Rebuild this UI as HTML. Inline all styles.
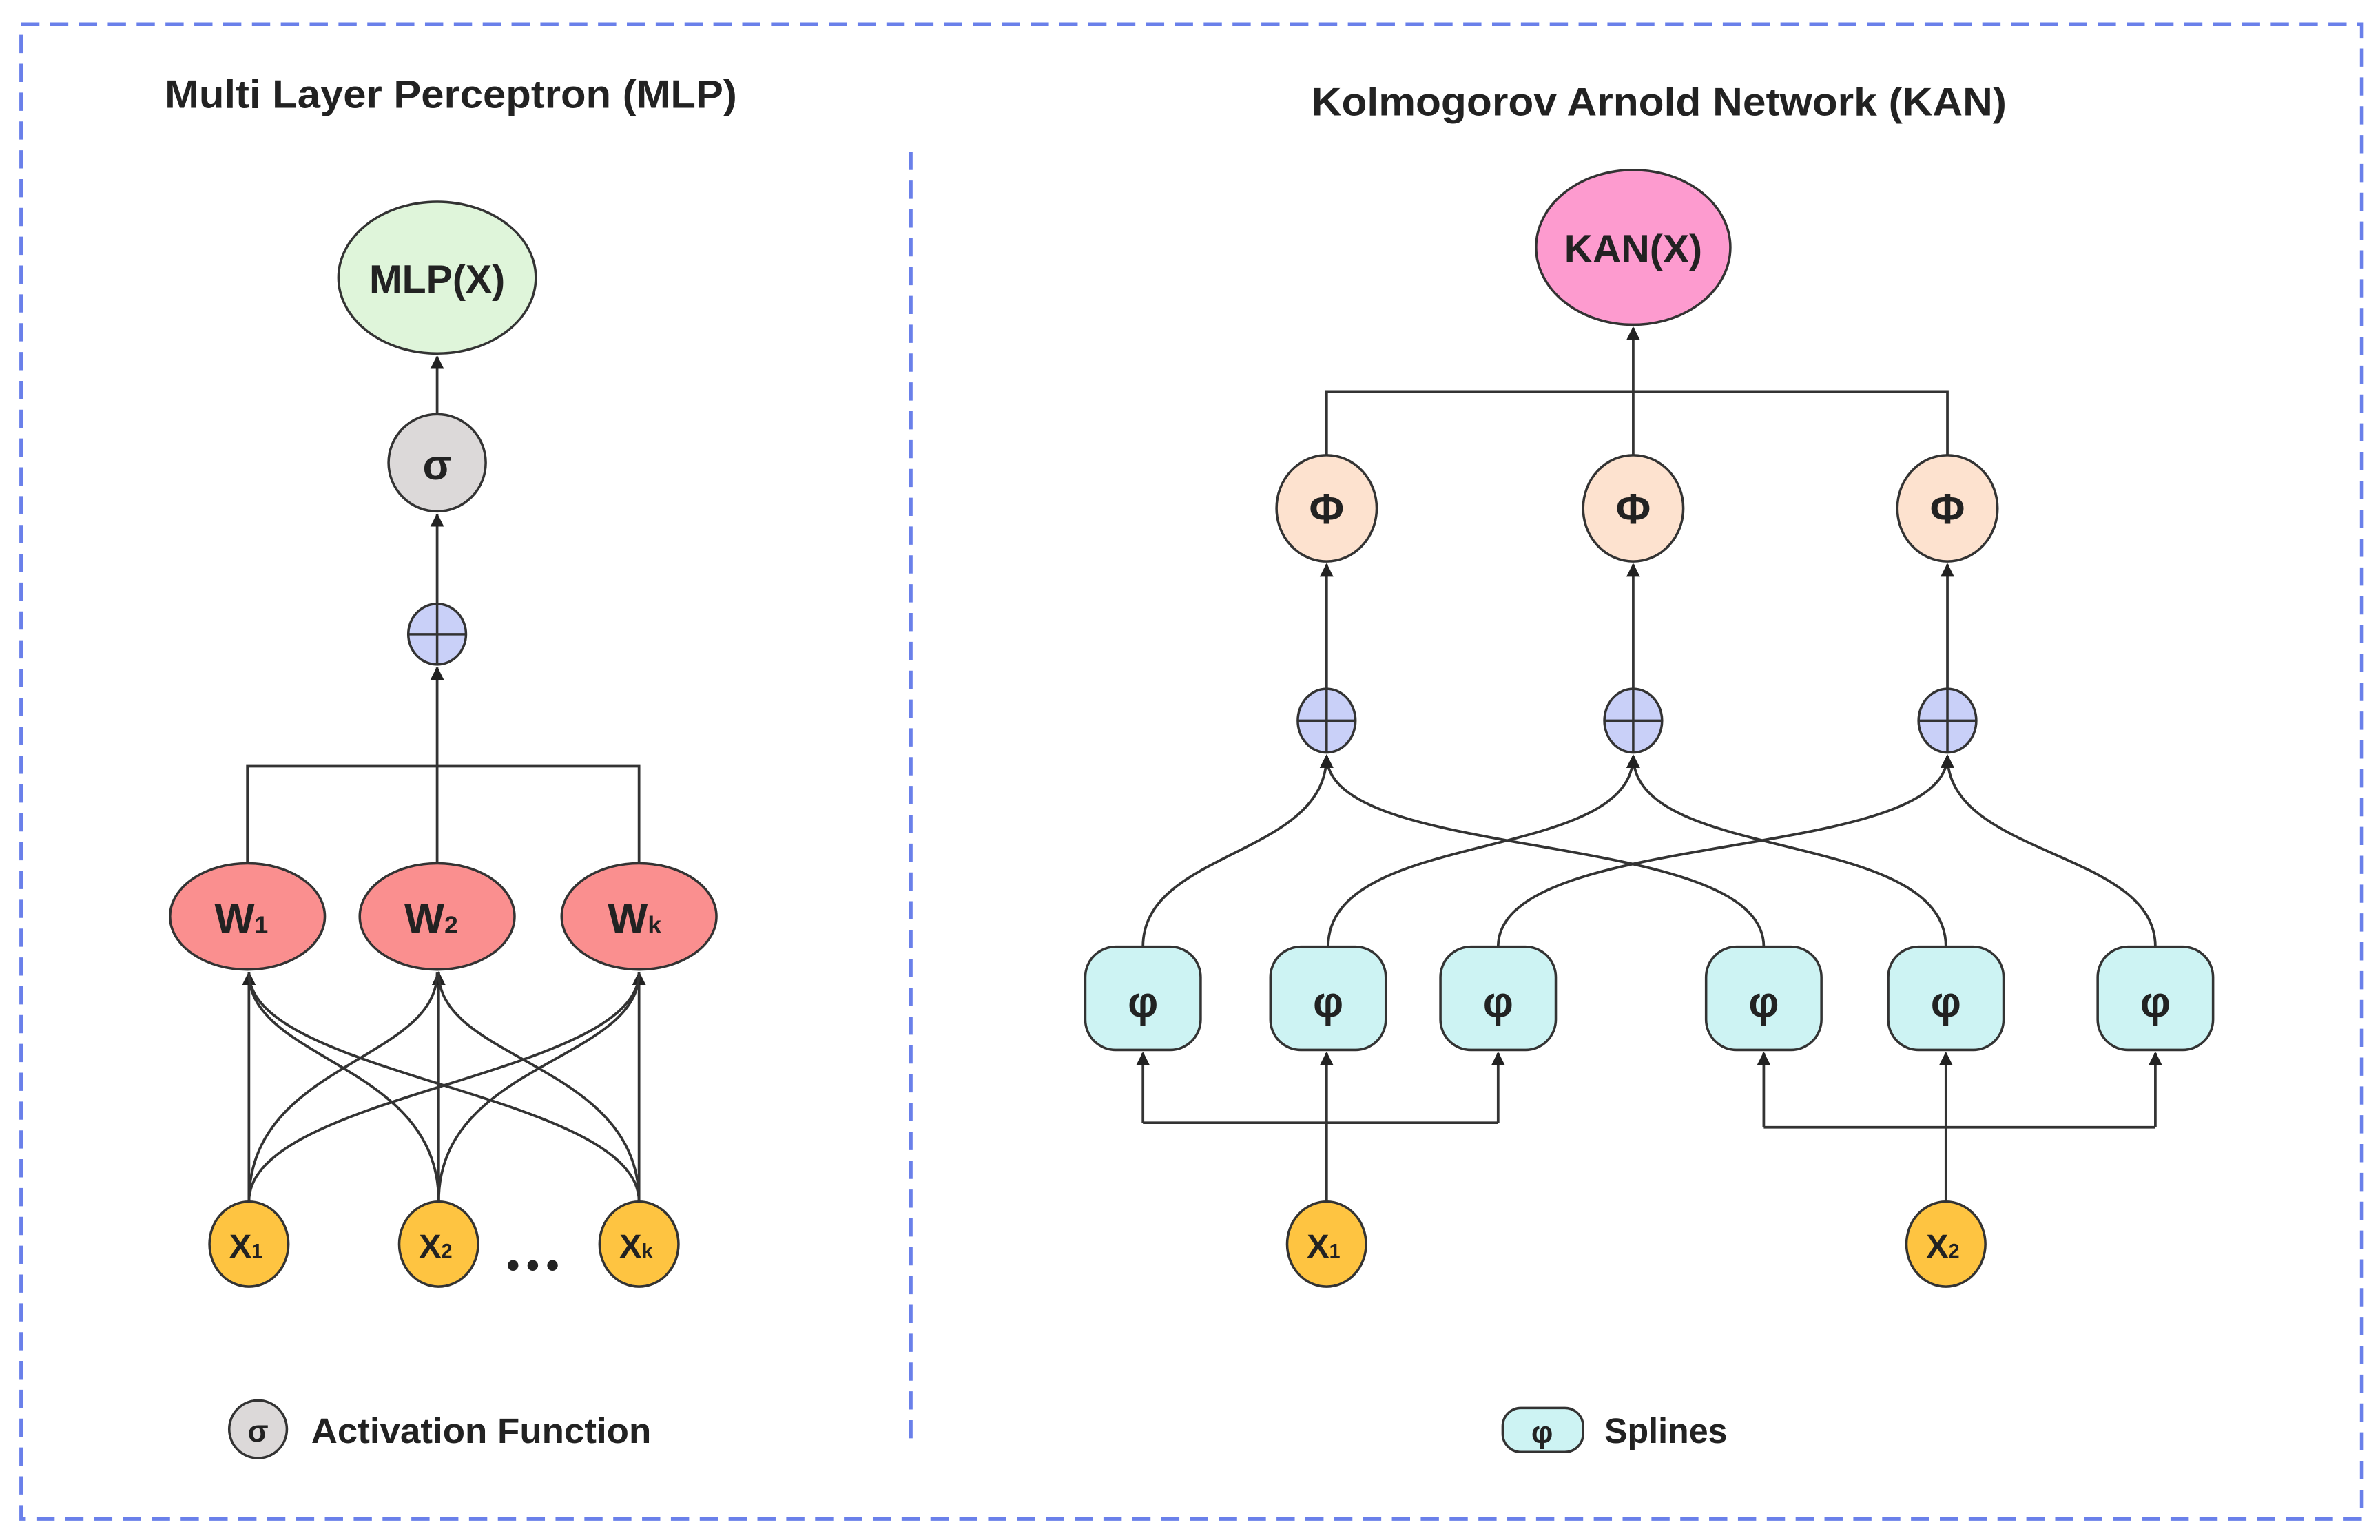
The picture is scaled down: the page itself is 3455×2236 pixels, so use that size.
<!DOCTYPE html>
<html><head><meta charset="utf-8"><style>
html,body{margin:0;padding:0;background:#fff;}
svg{display:block;}
text{font-family:"Liberation Sans",sans-serif;font-weight:bold;fill:#222;}
</style></head><body>
<svg width="3455" height="2236" viewBox="0 0 1568 1015" preserveAspectRatio="none" xmlns="http://www.w3.org/2000/svg">
<defs>
<marker id="a" viewBox="0 0 10 10" refX="9" refY="5" markerWidth="9" markerHeight="11" orient="auto" markerUnits="userSpaceOnUse">
<path d="M0,0 L10,5 L0,10 z" fill="#222"/></marker>
</defs>
<rect x="14" y="16" width="1542" height="985" fill="none" stroke="#6a80ea" stroke-width="2.5" stroke-dasharray="12,7"/>
<line x1="600" y1="100" x2="600" y2="952" stroke="#6a80ea" stroke-width="2.5" stroke-dasharray="12,7"/>
<text x="297" y="71" font-size="26" text-anchor="middle" textLength="377" lengthAdjust="spacingAndGlyphs">Multi Layer Perceptron (MLP)</text>
<text x="1093" y="76" font-size="26" text-anchor="middle" textLength="458" lengthAdjust="spacingAndGlyphs">Kolmogorov Arnold Network (KAN)</text>

<g stroke="#333" stroke-width="1.7" fill="none">
<line x1="288" y1="273" x2="288" y2="235" marker-end="url(#a)"/>
<line x1="288" y1="398" x2="288" y2="339" marker-end="url(#a)"/>
<polyline points="163,569 163,505 421,505 421,569"/>
<line x1="288" y1="569" x2="288" y2="440" marker-end="url(#a)"/>
<line x1="164" y1="792" x2="164" y2="641" marker-end="url(#a)"/>
<line x1="289" y1="792" x2="289" y2="641" marker-end="url(#a)"/>
<line x1="421" y1="792" x2="421" y2="641" marker-end="url(#a)"/>
<path d="M164 792 C164 700 288 700 288 641"/>
<path d="M164 792 C164 720 421 710 421 641"/>
<path d="M289 792 C289 700 164 700 164 641"/>
<path d="M289 792 C289 700 421 700 421 641"/>
<path d="M421 792 C421 700 289 700 289 641"/>
<path d="M421 792 C421 720 164 710 164 641"/>
<polyline points="874,300 874,258 1283,258 1283,300"/>
<line x1="1076" y1="300" x2="1076" y2="216" marker-end="url(#a)"/>
<line x1="874" y1="454" x2="874" y2="372" marker-end="url(#a)"/>
<line x1="1076" y1="454" x2="1076" y2="372" marker-end="url(#a)"/>
<line x1="1283" y1="454" x2="1283" y2="372" marker-end="url(#a)"/>
<path d="M753 624 C753 560 874 565 874 498" marker-end="url(#a)"/>
<path d="M1162 624 C1162 545 874 570 874 498" marker-end="url(#a)"/>
<path d="M875 624 C875 545 1076 570 1076 498" marker-end="url(#a)"/>
<path d="M1282 624 C1282 545 1076 570 1076 498" marker-end="url(#a)"/>
<path d="M987 624 C987 545 1283 570 1283 498" marker-end="url(#a)"/>
<path d="M1420 624 C1420 560 1283 565 1283 498" marker-end="url(#a)"/>
<polyline points="753,740 987,740"/>
<line x1="753" y1="740" x2="753" y2="694" marker-end="url(#a)"/>
<line x1="987" y1="740" x2="987" y2="694" marker-end="url(#a)"/>
<line x1="874" y1="792" x2="874" y2="694" marker-end="url(#a)"/>
<polyline points="1162,743 1420,743"/>
<line x1="1162" y1="743" x2="1162" y2="694" marker-end="url(#a)"/>
<line x1="1420" y1="743" x2="1420" y2="694" marker-end="url(#a)"/>
<line x1="1282" y1="792" x2="1282" y2="694" marker-end="url(#a)"/>
</g>

<g stroke="#333" stroke-width="1.6">
<ellipse cx="288" cy="183" rx="65" ry="50" fill="#dff5da"/>
<circle cx="288" cy="305" r="32" fill="#dcd9d9"/>
<ellipse cx="288" cy="418" rx="19" ry="20" fill="#c9d0f8"/>
<path d="M269 418 H307 M288 398 V438" fill="none"/>
<ellipse cx="163" cy="604" rx="51" ry="35" fill="#fa8f8f"/>
<ellipse cx="288" cy="604" rx="51" ry="35" fill="#fa8f8f"/>
<ellipse cx="421" cy="604" rx="51" ry="35" fill="#fa8f8f"/>
<ellipse cx="164" cy="820" rx="26" ry="28" fill="#fec441"/>
<ellipse cx="289" cy="820" rx="26" ry="28" fill="#fec441"/>
<ellipse cx="421" cy="820" rx="26" ry="28" fill="#fec441"/>
<circle cx="170" cy="942" r="19" fill="#dcd9d9"/>
<rect x="990" y="928" width="53" height="29" rx="12" fill="#cdf3f3"/>
<ellipse cx="1076" cy="163" rx="64" ry="51" fill="#fd9bcf"/>
<ellipse cx="874" cy="335" rx="33" ry="35" fill="#fde2cf"/>
<ellipse cx="1076" cy="335" rx="33" ry="35" fill="#fde2cf"/>
<ellipse cx="1283" cy="335" rx="33" ry="35" fill="#fde2cf"/>
<ellipse cx="874" cy="475" rx="19" ry="21" fill="#c9d0f8"/>
<ellipse cx="1076" cy="475" rx="19" ry="21" fill="#c9d0f8"/>
<ellipse cx="1283" cy="475" rx="19" ry="21" fill="#c9d0f8"/>
<path d="M855 475 H893 M874 454 V496 M1057 475 H1095 M1076 454 V496 M1264 475 H1302 M1283 454 V496" fill="none"/>
<rect x="715" y="624" width="76" height="68" rx="20" fill="#cdf3f3"/>
<rect x="837" y="624" width="76" height="68" rx="20" fill="#cdf3f3"/>
<rect x="949" y="624" width="76" height="68" rx="20" fill="#cdf3f3"/>
<rect x="1124" y="624" width="76" height="68" rx="20" fill="#cdf3f3"/>
<rect x="1244" y="624" width="76" height="68" rx="20" fill="#cdf3f3"/>
<rect x="1382" y="624" width="76" height="68" rx="20" fill="#cdf3f3"/>
<ellipse cx="874" cy="820" rx="26" ry="28" fill="#fec441"/>
<ellipse cx="1282" cy="820" rx="26" ry="28" fill="#fec441"/>
</g>
<circle cx="338" cy="834" r="3.5" fill="#222"/><circle cx="351" cy="834" r="3.5" fill="#222"/><circle cx="364" cy="834" r="3.5" fill="#222"/>

<g text-anchor="middle">
<text x="288" y="193" font-size="26">MLP(X)</text>
<text x="288" y="316" font-size="28">σ</text>
<text x="159" y="615" font-size="28">W<tspan font-size="16">1</tspan></text>
<text x="284" y="615" font-size="28">W<tspan font-size="16">2</tspan></text>
<text x="418" y="615" font-size="28">W<tspan font-size="16">k</tspan></text>
<text x="162" y="829" font-size="22">X<tspan font-size="13">1</tspan></text>
<text x="287" y="829" font-size="22">X<tspan font-size="13">2</tspan></text>
<text x="419" y="829" font-size="22">X<tspan font-size="13">k</tspan></text>
<text x="872" y="829" font-size="22">X<tspan font-size="13">1</tspan></text>
<text x="1280" y="829" font-size="22">X<tspan font-size="13">2</tspan></text>
<text x="170" y="950" font-size="20">σ</text>
<text x="1016" y="951" font-size="20">φ</text>
<text x="1076" y="173" font-size="26">KAN(X)</text>
<text x="874" y="345" font-size="28">Φ</text>
<text x="1076" y="345" font-size="28">Φ</text>
<text x="1283" y="345" font-size="28">Φ</text>
<text x="753" y="670" font-size="28">φ</text>
<text x="875" y="670" font-size="28">φ</text>
<text x="987" y="670" font-size="28">φ</text>
<text x="1162" y="670" font-size="28">φ</text>
<text x="1282" y="670" font-size="28">φ</text>
<text x="1420" y="670" font-size="28">φ</text>
</g>
<text x="205" y="951" font-size="23" textLength="224" lengthAdjust="spacingAndGlyphs">Activation Function</text>
<text x="1057" y="951" font-size="23" textLength="81" lengthAdjust="spacingAndGlyphs">Splines</text>
</svg>
</body></html>
